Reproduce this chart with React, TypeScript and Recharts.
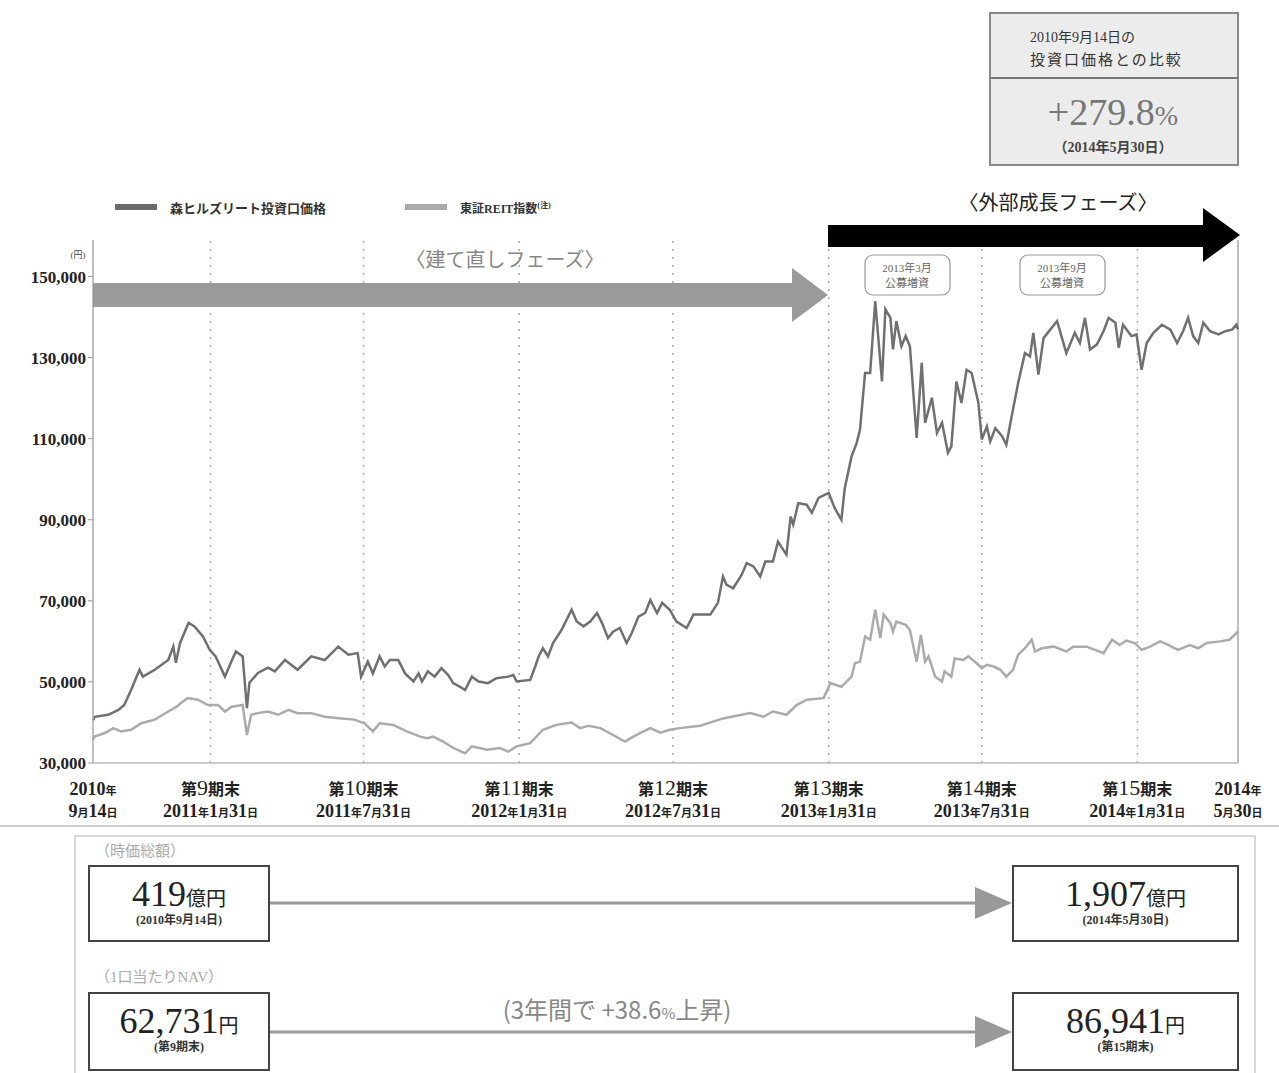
import React from 'react'
import { LineChart, Line, XAxis, YAxis, ReferenceLine } from 'recharts'

// day offsets from 2010-09-14, values in yen
const priceSeries: [number, number][] = [
  [0, 40500], [2, 41400], [18, 41900], [30, 43100], [37, 44300], [45, 48000], [55, 53000], [59, 51300],
  [73, 53000], [89, 55400], [95, 58700], [98, 54700], [103, 59600], [113, 64600], [120, 63700], [130, 61200],
  [138, 57900], [145, 56300], [156, 51300], [163, 54700], [169, 57500], [177, 56300], [182, 43500], [185, 49800],
  [195, 52200], [207, 53500], [215, 52600], [227, 55400], [242, 53000], [258, 56300], [274, 55400], [290, 58700],
  [302, 56700], [313, 57100], [317, 51300], [325, 55000], [331, 52100], [339, 56300], [345, 53800], [351, 55400],
  [361, 55400], [369, 52100], [379, 50100], [385, 52100], [389, 50100], [396, 52600], [404, 51300], [412, 53400],
  [420, 51700], [426, 49700], [434, 48800], [440, 48000], [448, 51300], [456, 50100], [467, 49700], [477, 50900],
  [491, 51300], [497, 51700], [501, 50100], [517, 50500], [523, 53800], [527, 56300], [532, 58300], [538, 56300],
  [544, 59600], [554, 62800], [566, 67800], [572, 64900], [580, 63700], [588, 64900], [596, 67000], [602, 64500],
  [609, 60800], [615, 62400], [623, 63300], [631, 59600], [637, 62000], [645, 66100], [653, 67000], [659, 70200],
  [667, 67000], [673, 69500], [682, 67800], [690, 64900], [702, 63300], [710, 66600], [730, 66600], [739, 69500],
  [745, 76000], [749, 74000], [757, 73100], [767, 76400], [773, 79300], [781, 78500], [789, 76000], [795, 79700],
  [804, 79700], [810, 84600], [820, 81400], [825, 90800], [828, 88800], [834, 94100], [844, 93700], [850, 91700],
  [858, 95400], [870, 96600], [877, 92900], [885, 90000], [889, 97800], [897, 105600], [903, 108900], [907, 112200],
  [913, 126200], [919, 126200], [925, 143900], [933, 124100], [937, 141900], [943, 139800], [946, 132000], [950, 139000],
  [956, 132800], [961, 135300], [966, 132800], [974, 110200], [980, 128700], [984, 113900], [992, 120100], [998, 111400],
  [1004, 113900], [1011, 106500], [1015, 108100], [1021, 124100], [1027, 118800], [1033, 127000], [1039, 126200], [1047, 118800],
  [1051, 109800], [1057, 113000], [1061, 109300], [1067, 112600], [1075, 110600], [1080, 108500], [1086, 115100], [1094, 123700],
  [1102, 131100], [1108, 130300], [1112, 136100], [1118, 125800], [1124, 134800], [1132, 136900], [1140, 139000], [1143, 136900],
  [1151, 131100], [1161, 136100], [1167, 133600], [1173, 139800], [1179, 132000], [1187, 133200], [1195, 136500], [1201, 139800],
  [1209, 138600], [1213, 132400], [1218, 138100], [1228, 135300], [1234, 135700], [1240, 127000], [1246, 133600], [1254, 136100],
  [1264, 138100], [1274, 136900], [1282, 133600], [1289, 136500], [1295, 139800], [1301, 135300], [1307, 133600], [1313, 138600],
  [1321, 136500], [1331, 135700], [1339, 136500], [1347, 136900], [1352, 138100], [1354, 137000],
]

const reitSeries: [number, number][] = [
  [0, 35800], [2, 36500], [14, 37400], [24, 38600], [33, 37800], [45, 38200], [57, 39800], [73, 40700],
  [89, 42700], [99, 43900], [104, 44800], [112, 46000], [124, 45600], [136, 44300], [148, 44300], [156, 42700],
  [164, 43900], [177, 44300], [182, 36900], [187, 41900], [195, 42300], [207, 42700], [219, 41900], [231, 43100],
  [242, 42300], [258, 42300], [274, 41400], [294, 41000], [309, 40700], [321, 39800], [331, 37800], [339, 39800],
  [355, 39400], [371, 37800], [387, 36500], [395, 36100], [402, 36500], [414, 35300], [426, 33700], [440, 32400],
  [448, 34100], [466, 33300], [481, 33700], [491, 32800], [501, 34100], [517, 34900], [532, 38200], [548, 39400],
  [566, 40000], [576, 38600], [586, 39200], [600, 38600], [615, 36900], [629, 35300], [639, 36500], [651, 37800],
  [659, 38600], [671, 37500], [682, 38200], [694, 38600], [718, 39200], [745, 41000], [777, 42300], [793, 41400],
  [804, 42700], [820, 41900], [832, 44300], [844, 45600], [864, 46000], [872, 49700], [885, 48800], [897, 51300],
  [901, 54600], [907, 55000], [913, 61200], [919, 60400], [925, 67800], [931, 60800], [935, 66600], [943, 64500],
  [946, 62400], [950, 64900], [961, 64100], [966, 62800], [974, 55000], [979, 61600], [984, 55000], [988, 56300],
  [996, 51300], [1004, 50100], [1007, 52600], [1015, 51300], [1019, 55800], [1029, 55400], [1035, 56300], [1045, 54600],
  [1051, 53400], [1057, 54200], [1065, 53800], [1073, 53000], [1080, 51300], [1088, 53000], [1094, 56700], [1102, 58300],
  [1110, 60400], [1114, 57500], [1122, 58300], [1136, 58700], [1151, 57500], [1159, 58700], [1175, 58700], [1195, 57100],
  [1205, 60400], [1214, 59100], [1222, 60200], [1232, 59600], [1240, 57900], [1250, 58700], [1262, 60000], [1272, 59100],
  [1283, 57900], [1297, 59100], [1307, 58300], [1317, 59600], [1333, 60000], [1344, 60400], [1352, 62000], [1354, 62500],
]

const periodDays = [0, 139, 320, 504, 686, 870, 1051, 1235, 1354]
const periodTop = ['2010年', '第9期末', '第10期末', '第11期末', '第12期末', '第13期末', '第14期末', '第15期末', '2014年']
const periodBottom = ['9月14日', '2011年1月31日', '2011年7月31日', '2012年1月31日', '2012年7月31日', '2013年1月31日', '2013年7月31日', '2014年1月31日', '5月30日']
const dividerDays = [139, 320, 504, 686, 870, 1051, 1235]
const yTicks = [30000, 50000, 70000, 90000, 110000, 130000, 150000]

const SERIF = "'Liberation Serif', 'DejaVu Serif', 'Noto Sans CJK JP', serif"
const SANS = "'Noto Sans CJK JP', 'Noto Sans', sans-serif"

const priceData = priceSeries.map(([day, v]) => ({ day, price: v }))
const reitData = reitSeries.map(([day, v]) => ({ day, reit: v }))

const runs = (s: string) => s.match(/[0-9,.]+|[^0-9,.]+/g) || []

function PeriodTick(props: any) {
  const { x, y, payload } = props
  const i = periodDays.indexOf(payload.value)
  if (i < 0) return null
  const top = periodTop[i]
  const big = top.startsWith('第')
  return (
    <g>
      <text x={x} y={y + 24} textAnchor="middle" fontFamily={SERIF} fill="#222">
        {runs(top).map((r, k) =>
          /\d/.test(r) ? (
            <tspan key={k} fontSize={big ? 22 : 18} fontWeight={big ? 'normal' : 'bold'}>{r}</tspan>
          ) : (
            <tspan key={k} fontSize={big ? 16 : 11} fontWeight="bold">{r}</tspan>
          )
        )}
      </text>
      <text x={x} y={y + 46} textAnchor="middle" fontFamily={SERIF} fill="#222">
        {runs(periodBottom[i]).map((r, k) =>
          /\d/.test(r) ? (
            <tspan key={k} fontSize={18} fontWeight="bold">{r}</tspan>
          ) : (
            <tspan key={k} fontSize={11} fontWeight="bold">{r}</tspan>
          )
        )}
      </text>
    </g>
  )
}

function ValueBox({ x, y, w, h, num, unit, note }: { x: number; y: number; w: number; h: number; num: string; unit: string; note: string }) {
  const cx = x + w / 2
  return (
    <g>
      <rect x={x} y={y} width={w} height={h} fill="#fff" stroke="#444" strokeWidth={2} />
      <text x={cx} y={y + 40} textAnchor="middle" fontFamily={SERIF} fill="#222">
        <tspan fontSize={36}>{num}</tspan>
        <tspan fontSize={20}>{unit}</tspan>
      </text>
      <text x={cx} y={y + 58} textAnchor="middle" fontFamily={SERIF} fill="#333" fontSize={12} fontWeight="bold">
        {note}
      </text>
    </g>
  )
}

function Overlay() {
  return (
    <svg width={1279} height={1073} style={{ position: 'absolute', left: 0, top: 0, pointerEvents: 'none' }}>
      {/* comparison box */}
      <rect x={990} y={13} width={248} height={152} fill="#ececec" stroke="#8a8a8a" strokeWidth={2} />
      <line x1={990} x2={1238} y1={78} y2={78} stroke="#777" strokeWidth={2} />
      <text x={1030} y={42} fontFamily={SERIF} fontSize={14} fill="#333">2010年9月14日の</text>
      <text x={1030} y={65} fontFamily={SERIF} fontSize={15} fill="#333" letterSpacing={2}>投資口価格との比較</text>
      <text x={1113} y={125} textAnchor="middle" fontFamily={SERIF} fill="#777">
        <tspan fontSize={38}>+279.8</tspan>
        <tspan fontSize={28}>%</tspan>
      </text>
      <text x={1113} y={152} textAnchor="middle" fontFamily={SERIF} fontSize={14} fill="#444" fontWeight="bold">（2014年5月30日）</text>

      {/* legend */}
      <rect x={115} y={204} width={42} height={6} fill="#6a6a6a" />
      <text x={170} y={213} fontFamily={SERIF} fontSize={13} fontWeight="bold" fill="#333">森ヒルズリート投資口価格</text>
      <rect x={405} y={204} width={42} height={6} fill="#aaa" />
      <text x={460} y={213} fontFamily={SERIF} fontSize={12} fontWeight="bold" fill="#333">
        東証REIT指数<tspan fontSize={8} dy={-5}>(注)</tspan>
      </text>

      {/* phase arrows */}
      <polygon points="93,283 792,283 792,268 828,295 792,322 792,307 93,307" fill="#9a9a9a" />
      <polygon points="828,225 1203,225 1203,208 1240,235 1203,262 1203,247 828,247" fill="#000" />
      <text x={505} y={267} textAnchor="middle" fontFamily={SERIF} fontSize={20} fill="#888">〈建て直しフェーズ〉</text>
      <text x={1058} y={210} textAnchor="middle" fontFamily={SERIF} fontSize={20} fill="#222">〈外部成長フェーズ〉</text>

      {/* offering callouts */}
      {[865, 1020].map((bx, k) => (
        <g key={k}>
          <rect x={bx} y={255} width={85} height={40} rx={8} fill="#fff" stroke="#999" strokeWidth={1.2} />
          <text x={bx + 42} y={272} textAnchor="middle" fontFamily={SERIF} fontSize={11} fill="#666">{k === 0 ? '2013年3月' : '2013年9月'}</text>
          <text x={bx + 42} y={287} textAnchor="middle" fontFamily={SERIF} fontSize={11} fill="#666">公募増資</text>
        </g>
      ))}
      <text x={78} y={258} textAnchor="middle" fontFamily={SERIF} fontSize={9} fill="#444">(円)</text>

      {/* bottom panel */}
      <line x1={0} x2={1279} y1={826} y2={826} stroke="#bbb" strokeWidth={1.5} />
      <rect x={75} y={836} width={1180} height={260} fill="none" stroke="#ccc" strokeWidth={1.5} />
      <text x={95} y={856} fontFamily={SERIF} fontSize={15} fill="#aaa">（時価総額）</text>
      <text x={95} y={982} fontFamily={SERIF} fontSize={15} fill="#aaa">（1口当たりNAV）</text>

      <line x1={270} x2={980} y1={903} y2={903} stroke="#999" strokeWidth={3} />
      <polygon points="975,887 1012,903 975,919" fill="#999" />
      <line x1={270} x2={980} y1={1032} y2={1032} stroke="#999" strokeWidth={3} />
      <polygon points="975,1016 1012,1032 975,1048" fill="#999" />

      <ValueBox x={89} y={866} w={180} h={75} num="419" unit="億円" note="(2010年9月14日)" />
      <ValueBox x={1013} y={866} w={225} h={75} num="1,907" unit="億円" note="(2014年5月30日)" />
      <ValueBox x={89} y={993} w={180} h={77} num="62,731" unit="円" note="(第9期末)" />
      <ValueBox x={1013} y={993} w={225} h={77} num="86,941" unit="円" note="(第15期末)" />

      <text x={617} y={1019} textAnchor="middle" fontFamily={SANS} fill="#888">
        <tspan fontSize={24}>(3年間で +38.6</tspan>
        <tspan fontSize={15}>%</tspan>
        <tspan fontSize={24}>上昇)</tspan>
      </text>
    </svg>
  )
}

export default function App() {
  return (
    <div style={{ position: 'absolute', left: 0, top: 0, width: 1279, height: 1073, background: '#fff', overflow: 'hidden' }}>
      <LineChart width={1279} height={830} margin={{ top: 240, right: 41, bottom: 7, left: 0 }}>
        <XAxis
          dataKey="day"
          type="number"
          domain={[0, 1354]}
          ticks={periodDays}
          tick={<PeriodTick />}
          tickLine={false}
          axisLine={{ stroke: '#bbb', strokeWidth: 1.5 }}
          height={60}
          interval={0}
        />
        <YAxis
          type="number"
          domain={[30000, 159000]}
          ticks={yTicks}
          width={93}
          tickFormatter={(v: number) => v.toLocaleString('en-US')}
          tick={{ fill: '#222', fontSize: 17, fontWeight: 'bold', fontFamily: SERIF }}
          tickLine={{ stroke: '#999' }}
          tickSize={5}
          axisLine={{ stroke: '#aaa', strokeWidth: 1.5 }}
          interval={0}
        />
        {dividerDays.map((d) => (
          <ReferenceLine key={d} x={d} stroke="#aaa" strokeWidth={1.5} strokeDasharray="2 6" />
        ))}
        <ReferenceLine x={1354} stroke="#aaa" strokeWidth={1.5} />
        <Line data={reitData} dataKey="reit" stroke="#ababab" strokeWidth={2.5} dot={false} isAnimationActive={false} />
        <Line data={priceData} dataKey="price" stroke="#707070" strokeWidth={2.5} dot={false} isAnimationActive={false} />
      </LineChart>
      <Overlay />
    </div>
  )
}
